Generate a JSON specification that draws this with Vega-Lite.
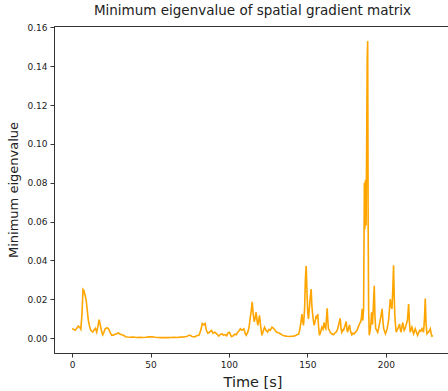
{
  "$schema": "https://vega.github.io/schema/vega-lite/v6.json",
  "autosize": {"type": "none"},
  "padding": {"left": 54, "top": 26, "right": 0, "bottom": 38},
  "width": 397,
  "height": 327,
  "background": "white",
  "title": {"text": "Minimum eigenvalue of spatial gradient matrix", "font": "DejaVu Sans", "fontSize": 13.5, "fontWeight": "normal", "color": "#222", "offset": 6},
  "config": {
    "view": {"stroke": "#333", "strokeWidth": 1},
    "axis": {"grid": false, "domainColor": "#333", "tickColor": "#333", "labelColor": "#222", "labelFont": "DejaVu Sans", "labelFontSize": 9, "titleFont": "DejaVu Sans", "titleFontWeight": "normal", "titleColor": "#222", "tickSize": 4, "labelPadding": 3}
  },
  "data": {"values": [
    {"t":0,"v":0.0048},{"t":1,"v":0.0045},{"t":2,"v":0.004},{"t":3,"v":0.005},{"t":4,"v":0.0061},{"t":5,"v":0.0055},{"t":5.6,"v":0.0046},{"t":6.3,"v":0.012},{"t":7,"v":0.025},{"t":7.5,"v":0.0245},{"t":8.2,"v":0.0225},{"t":9,"v":0.0195},{"t":9.6,"v":0.015},{"t":10.4,"v":0.009},{"t":11.2,"v":0.006},{"t":11.9,"v":0.004},{"t":12.6,"v":0.0035},{"t":13.2,"v":0.0031},{"t":14,"v":0.0042},{"t":14.9,"v":0.005},{"t":15.7,"v":0.003},{"t":16.5,"v":0.006},{"t":17.2,"v":0.0095},{"t":17.8,"v":0.0075},{"t":18.3,"v":0.0055},{"t":19,"v":0.003},{"t":19.6,"v":0.0017},{"t":20.3,"v":0.003},{"t":21.1,"v":0.0048},{"t":22,"v":0.0052},{"t":23.2,"v":0.005},{"t":24.2,"v":0.003},{"t":25.3,"v":0.0014},{"t":26.3,"v":0.0015},{"t":27.4,"v":0.0019},{"t":28.5,"v":0.0022},{"t":29.5,"v":0.0026},{"t":30.5,"v":0.0021},{"t":31.6,"v":0.0017},{"t":32.8,"v":0.0014},{"t":34,"v":0.0007},{"t":35.5,"v":0.0005},{"t":37,"v":0.0004},{"t":39,"v":0.0005},{"t":41,"v":0.0003},{"t":43,"v":0.0004},{"t":45,"v":0.0003},{"t":47,"v":0.0004},{"t":49,"v":0.0006},{"t":51,"v":0.0007},{"t":53,"v":0.0004},{"t":55,"v":0.0003},{"t":57,"v":0.0002},{"t":59,"v":0.0003},{"t":61,"v":0.0002},{"t":63,"v":0.0003},{"t":65,"v":0.0004},{"t":67,"v":0.0003},{"t":69,"v":0.0005},{"t":71,"v":0.0006},{"t":73,"v":0.0008},{"t":75,"v":0.0015},{"t":76.5,"v":0.0008},{"t":78,"v":0.0006},{"t":79.5,"v":0.0012},{"t":81,"v":0.0015},{"t":82.2,"v":0.0045},{"t":83,"v":0.0075},{"t":84,"v":0.0068},{"t":84.8,"v":0.0075},{"t":85.6,"v":0.004},{"t":86.5,"v":0.0025},{"t":87.5,"v":0.003},{"t":88.9,"v":0.0039},{"t":89.8,"v":0.0025},{"t":91,"v":0.003},{"t":92.2,"v":0.0022},{"t":93.5,"v":0.001},{"t":94.5,"v":0.0018},{"t":95.5,"v":0.0022},{"t":96.5,"v":0.0015},{"t":97.5,"v":0.0018},{"t":98.5,"v":0.0012},{"t":99.4,"v":0.0027},{"t":100.3,"v":0.003},{"t":101.5,"v":0.0008},{"t":102.5,"v":0.001},{"t":103.6,"v":0.002},{"t":104.7,"v":0.0017},{"t":105.6,"v":0.003},{"t":106.5,"v":0.0038},{"t":107.3,"v":0.0048},{"t":108.2,"v":0.004},{"t":109.5,"v":0.0048},{"t":110.3,"v":0.0025},{"t":111,"v":0.0014},{"t":112,"v":0.003},{"t":112.8,"v":0.0055},{"t":113.5,"v":0.01},{"t":114.2,"v":0.014},{"t":114.8,"v":0.0187},{"t":115.5,"v":0.012},{"t":116.1,"v":0.0083},{"t":116.7,"v":0.0105},{"t":117.3,"v":0.0133},{"t":117.9,"v":0.009},{"t":118.4,"v":0.0065},{"t":119,"v":0.0095},{"t":119.5,"v":0.0116},{"t":120.2,"v":0.006},{"t":121,"v":0.0014},{"t":121.8,"v":0.0035},{"t":122.7,"v":0.0056},{"t":123.6,"v":0.004},{"t":124.6,"v":0.0031},{"t":125.5,"v":0.0045},{"t":126.4,"v":0.004},{"t":127.4,"v":0.0056},{"t":128.4,"v":0.005},{"t":129.5,"v":0.0039},{"t":130.5,"v":0.003},{"t":131.6,"v":0.0027},{"t":132.7,"v":0.0022},{"t":134,"v":0.0015},{"t":135.5,"v":0.0011},{"t":137,"v":0.0009},{"t":138.5,"v":0.0008},{"t":140,"v":0.0009},{"t":141.2,"v":0.001},{"t":142.5,"v":0.0013},{"t":143.5,"v":0.0018},{"t":144.4,"v":0.002},{"t":145.2,"v":0.0045},{"t":146,"v":0.009},{"t":146.5,"v":0.0124},{"t":147,"v":0.0085},{"t":147.5,"v":0.0065},{"t":148.2,"v":0.015},{"t":148.7,"v":0.03},{"t":149.2,"v":0.0371},{"t":149.7,"v":0.024},{"t":150.2,"v":0.013},{"t":150.7,"v":0.0099},{"t":151.2,"v":0.015},{"t":151.7,"v":0.0201},{"t":152.4,"v":0.0252},{"t":152.8,"v":0.017},{"t":153.2,"v":0.0133},{"t":153.8,"v":0.009},{"t":154.3,"v":0.0065},{"t":155,"v":0.009},{"t":155.6,"v":0.0116},{"t":156.1,"v":0.01},{"t":156.6,"v":0.0124},{"t":157.1,"v":0.006},{"t":157.7,"v":0.0014},{"t":158.4,"v":0.003},{"t":159.2,"v":0.0056},{"t":159.9,"v":0.0045},{"t":160.6,"v":0.008},{"t":161.2,"v":0.0055},{"t":161.7,"v":0.0048},{"t":162.2,"v":0.011},{"t":162.6,"v":0.0153},{"t":163,"v":0.009},{"t":163.4,"v":0.0048},{"t":164,"v":0.004},{"t":164.5,"v":0.003},{"t":165.5,"v":0.0022},{"t":166.6,"v":0.0017},{"t":167.4,"v":0.0025},{"t":168.3,"v":0.003},{"t":169.2,"v":0.0045},{"t":170.1,"v":0.0075},{"t":170.9,"v":0.0102},{"t":171.4,"v":0.005},{"t":171.9,"v":0.003},{"t":172.5,"v":0.0042},{"t":173,"v":0.004},{"t":173.8,"v":0.006},{"t":174.7,"v":0.0085},{"t":175.1,"v":0.005},{"t":175.5,"v":0.003},{"t":176.2,"v":0.005},{"t":176.8,"v":0.0068},{"t":177.5,"v":0.0035},{"t":178.3,"v":0.0017},{"t":179,"v":0.0025},{"t":179.8,"v":0.0022},{"t":180.6,"v":0.003},{"t":181.5,"v":0.0039},{"t":182.3,"v":0.0055},{"t":183.2,"v":0.0073},{"t":184,"v":0.0085},{"t":184.5,"v":0.011},{"t":184.9,"v":0.015},{"t":185.3,"v":0.009},{"t":185.8,"v":0.015},{"t":186.1,"v":0.055},{"t":186.3,"v":0.08},{"t":186.6,"v":0.056},{"t":187,"v":0.0815},{"t":187.4,"v":0.058},{"t":187.8,"v":0.105},{"t":188.1,"v":0.1437},{"t":188.4,"v":0.153},{"t":188.7,"v":0.06},{"t":189,"v":0.015},{"t":189.4,"v":0.0015},{"t":190,"v":0.004},{"t":190.5,"v":0.008},{"t":190.9,"v":0.0133},{"t":191.5,"v":0.007},{"t":192.1,"v":0.018},{"t":192.6,"v":0.0269},{"t":193,"v":0.012},{"t":193.5,"v":0.0048},{"t":194.2,"v":0.004},{"t":194.8,"v":0.003},{"t":195.5,"v":0.0055},{"t":196.1,"v":0.008},{"t":196.8,"v":0.011},{"t":197.6,"v":0.015},{"t":198.1,"v":0.009},{"t":198.6,"v":0.0048},{"t":199.2,"v":0.0035},{"t":199.7,"v":0.0022},{"t":200.3,"v":0.0035},{"t":200.8,"v":0.0048},{"t":201.3,"v":0.007},{"t":201.8,"v":0.0099},{"t":202.3,"v":0.015},{"t":202.8,"v":0.0201},{"t":203.3,"v":0.017},{"t":203.9,"v":0.015},{"t":204.4,"v":0.025},{"t":204.9,"v":0.0375},{"t":205.3,"v":0.022},{"t":205.7,"v":0.0116},{"t":206.2,"v":0.006},{"t":206.6,"v":0.003},{"t":207.1,"v":0.004},{"t":207.6,"v":0.0048},{"t":208.2,"v":0.006},{"t":208.7,"v":0.0073},{"t":209.2,"v":0.0045},{"t":209.7,"v":0.003},{"t":210.2,"v":0.0055},{"t":210.8,"v":0.008},{"t":211.2,"v":0.006},{"t":211.7,"v":0.004},{"t":212.3,"v":0.005},{"t":212.9,"v":0.0068},{"t":213.7,"v":0.009},{"t":214.1,"v":0.013},{"t":214.5,"v":0.0175},{"t":215,"v":0.008},{"t":215.5,"v":0.003},{"t":216.1,"v":0.0045},{"t":216.6,"v":0.0056},{"t":217.2,"v":0.0035},{"t":217.7,"v":0.0022},{"t":218.2,"v":0.0035},{"t":218.7,"v":0.0048},{"t":219.5,"v":0.003},{"t":220.2,"v":0.0014},{"t":220.8,"v":0.0025},{"t":221.5,"v":0.004},{"t":222.3,"v":0.0035},{"t":223,"v":0.0048},{"t":223.5,"v":0.004},{"t":224,"v":0.003},{"t":224.6,"v":0.01},{"t":225.1,"v":0.0204},{"t":225.6,"v":0.007},{"t":226.2,"v":0.0022},{"t":226.7,"v":0.0028},{"t":227.2,"v":0.003},{"t":227.8,"v":0.004},{"t":228.3,"v":0.0048},{"t":228.8,"v":0.0025},{"t":229.3,"v":0.001},{"t":230,"v":0.0012}
  ]},
  "mark": {"type": "line", "color": "#FFA500", "strokeWidth": 1.6},
  "encoding": {
    "x": {"field": "t", "type": "quantitative", "scale": {"domain": [-11.5, 241.5], "nice": false, "zero": false},
          "axis": {"title": "Time [s]", "titleFontSize": 14.5, "titlePadding": 6, "values": [0, 50, 100, 150, 200], "format": "d"}},
    "y": {"field": "v", "type": "quantitative", "scale": {"domain": [-0.0077, 0.1607], "nice": false, "zero": false},
          "axis": {"title": "Minimum eigenvalue", "titleFontSize": 13, "titlePadding": 6, "values": [0, 0.02, 0.04, 0.06, 0.08, 0.1, 0.12, 0.14, 0.16], "format": ".2f"}}
  }
}
